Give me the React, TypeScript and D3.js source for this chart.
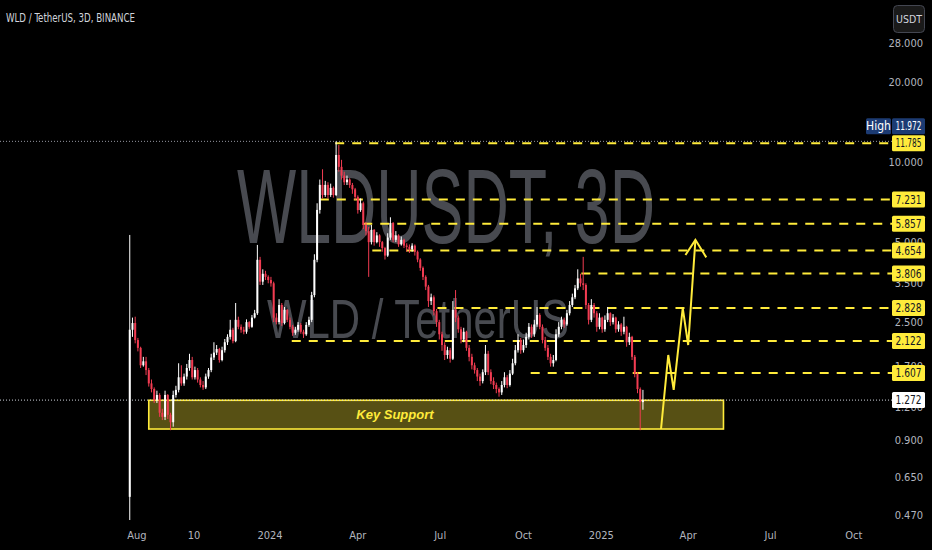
import React from 'react';
import * as d3 from 'd3';

const W = 932;
const H = 550;

const parse = d3.timeParse('%Y-%m-%d');

// 3-day candles, Binance WLD/USDT
const firstBarDate = '2023-07-24';
const barDays = 3;
const firstOpen = 0.55;
const closes = [
  2.34, 2.48, 2.14, 2.0, 1.72, 1.78, 1.65, 1.47, 1.4, 1.27,
  1.33, 1.14, 1.1, 1.33, 1.12, 1.05, 1.33, 1.39, 1.55, 1.47,
  1.56, 1.68, 1.8, 1.55, 1.65, 1.52, 1.45, 1.42, 1.56, 1.65,
  1.84, 1.92, 1.98, 1.8, 1.96, 2.1, 2.2, 2.34, 2.12, 2.55,
  2.4, 2.34, 2.3, 2.5, 2.4, 2.6, 2.7, 4.29, 3.55, 3.8,
  3.7, 3.6, 3.5, 2.6, 2.5, 2.9, 2.48, 2.78, 2.55, 2.4,
  2.28, 2.34, 2.44, 2.3, 2.25, 2.44, 2.55, 3.16, 4.29, 6.61,
  8.21,
  7.52, 8.21, 7.52, 8.0, 7.52, 10.64, 9.6, 8.9, 8.4, 8.6,
  8.2, 7.9, 7.4, 6.6, 7.0, 5.8, 5.5, 5.0, 5.56, 5.0,
  5.3, 5.0, 4.75, 4.45, 5.2, 5.9, 5.1, 5.3, 4.9, 5.1,
  4.85, 4.8, 4.7, 4.85, 4.6, 4.3, 4.0, 3.7, 3.4, 3.0,
  3.1, 2.75, 2.5, 2.25, 2.05, 1.88, 1.96, 1.82, 2.78, 2.6,
  2.35, 2.15, 2.3, 2.0, 1.85, 1.72, 1.65, 1.56, 1.5, 1.62,
  1.9, 1.62, 1.5, 1.45, 1.4, 1.36, 1.45, 1.55, 1.45, 1.6,
  1.75, 1.96, 2.14, 1.96, 2.05, 2.2, 2.4, 2.25, 2.45, 2.66,
  2.4, 2.14, 2.0, 1.85, 1.75, 1.8, 2.25, 2.4, 2.55, 2.45,
  2.7, 2.9, 3.1, 3.35, 3.65, 3.5, 3.45, 2.9, 2.55, 2.9,
  2.7, 2.4, 2.6, 2.35, 2.55, 2.7, 2.5, 2.6, 2.35, 2.45,
  2.3, 2.4, 2.1, 2.2, 1.85, 1.6, 1.4, 1.25, 1.272,
];
const highs = [
  5.32, 2.6, 2.62, 2.18, 2.02, 1.85, 1.85, 1.68, 1.52, 1.42,
  1.38, 1.35, 1.18, 1.38, 1.34, 1.14, 1.38, 1.44, 1.75, 1.72,
  1.6, 1.74, 1.9, 1.85, 1.7, 1.68, 1.55, 1.5, 1.6, 1.68,
  1.9, 2.1, 2.05, 2.0, 2.02, 2.16, 2.25, 2.55, 2.38, 2.95,
  2.62, 2.45, 2.4, 2.56, 2.52, 2.66, 2.78, 4.88, 4.4, 3.95,
  3.9, 3.75, 3.7, 3.55, 2.7, 3.05, 2.95, 2.85, 2.8, 2.6,
  2.44, 2.4, 2.5, 2.48, 2.34, 2.5, 2.62, 3.25, 4.5, 7.0,
  8.6,
  9.4, 8.5, 8.4, 8.3, 8.1, 11.97, 11.6, 10.2, 9.2, 8.9,
  8.7, 8.35, 8.0, 7.5, 7.3, 7.1, 5.95, 5.7, 5.8, 5.6,
  5.45, 5.35, 5.05, 4.8, 5.4, 6.2, 5.95, 5.5, 5.35, 5.25,
  5.15, 4.95, 4.9, 4.95, 4.9, 4.65, 4.35, 4.05, 3.75, 3.45,
  3.2, 3.15, 2.8, 2.55, 2.3, 2.1, 2.02, 2.0, 3.0, 3.3,
  2.65, 2.4, 2.38, 2.32, 2.05, 1.9, 1.76, 1.68, 1.6, 1.66,
  2.05, 1.95, 1.66, 1.55, 1.48, 1.42, 1.5, 1.62, 1.58, 1.65,
  1.82, 2.05, 2.25, 2.18, 2.15, 2.28, 2.48, 2.45, 2.55, 2.85,
  2.7, 2.45, 2.2, 2.05, 1.9, 1.88, 2.35, 2.5, 2.62, 2.6,
  2.78, 3.0, 3.2, 3.45, 3.95, 3.8, 4.4, 3.5, 2.95, 3.05,
  2.95, 2.75, 2.7, 2.62, 2.65, 2.85, 2.72, 2.68, 2.62, 2.52,
  2.48, 2.62, 2.42, 2.28, 2.22, 1.88, 1.62, 1.42, 1.39,
];
const lows = [
  0.45, 2.2, 2.08, 1.94, 1.68, 1.7, 1.58, 1.43, 1.36, 1.24,
  1.24, 1.1, 1.07, 1.07, 1.08, 0.98, 1.01, 1.3, 1.36, 1.44,
  1.44, 1.52, 1.64, 1.52, 1.52, 1.48, 1.42, 1.39, 1.4, 1.53,
  1.62, 1.8, 1.88, 1.76, 1.78, 1.92, 2.05, 2.15, 2.08, 2.1,
  2.35, 2.28, 2.25, 2.26, 2.36, 2.38, 2.58, 2.66, 3.45, 3.45,
  3.6, 3.5, 3.4, 2.5, 2.45, 2.45, 2.42, 2.45, 2.5, 2.35,
  2.22, 2.24, 2.3, 2.26, 2.18, 2.22, 2.4, 2.5, 3.1, 4.2,
  6.4,
  7.3, 7.4, 7.3, 7.4, 7.35, 7.45, 9.2, 8.6, 8.2, 8.2,
  8.0, 7.6, 7.2, 6.4, 6.5, 5.6, 5.3, 3.7, 4.9, 4.85,
  4.95, 4.8, 4.6, 4.3, 4.4, 5.1, 5.0, 5.0, 4.8, 4.85,
  4.75, 4.6, 4.55, 4.6, 4.45, 4.2, 3.9, 3.6, 3.3, 2.85,
  2.9, 2.65, 2.4, 2.15, 1.95, 1.8, 1.82, 1.76, 1.8, 2.5,
  2.28, 2.08, 2.1, 1.95, 1.78, 1.66, 1.6, 1.5, 1.44, 1.47,
  1.58, 1.58, 1.46, 1.4, 1.35, 1.31, 1.33, 1.42, 1.41, 1.43,
  1.58, 1.72, 1.92, 1.9, 1.92, 2.0, 2.15, 2.18, 2.2, 2.4,
  2.35, 2.08, 1.95, 1.8, 1.7, 1.7, 1.78, 2.2, 2.35, 2.38,
  2.42, 2.65, 2.85, 3.05, 3.3, 3.4, 3.3, 2.8, 2.45, 2.5,
  2.6, 2.3, 2.35, 2.28, 2.3, 2.5, 2.42, 2.45, 2.28, 2.3,
  2.22, 2.25, 2.02, 2.05, 1.8, 1.55, 1.35, 0.98, 1.17,
];

// Horizontal levels
const levelPrices = [11.785, 7.231, 5.857, 4.654, 3.806, 2.828, 2.122, 1.607];
const levelStarts = ['2024-03-07', '2024-02-19', '2024-04-07', '2024-04-17', '2024-12-04', '2024-06-28', '2024-01-19', '2024-10-09'];
const highPrice = 11.972;
const lastPrice = 1.272;

// Price axis
const priceTicks = [28, 20, 10, 5, 3.5, 2.5, 1.7, 1.2, 0.9, 0.65, 0.47];
// Time axis
const timeTickDates = ['2023-08-01', '2023-10-03', '2023-12-26', '2024-04-01', '2024-07-01', '2024-10-01', '2024-12-26', '2025-04-01', '2025-07-01', '2025-10-01'];
const timeTickLabels = ['Aug', '10', '2024', 'Apr', 'Jul', 'Oct', '2025', 'Apr', 'Jul', 'Oct'];

// Key support zone
const zoneStart = '2023-08-14';
const zoneEnd = '2025-05-10';
const zoneTop = 1.27;
const zoneBottom = 0.99;
const zoneLabelDate = '2024-05-12';

// Projected path
const pathDates = ['2025-03-02', '2025-03-10', '2025-03-16', '2025-03-26', '2025-04-01', '2025-04-09'];
const pathPrices = [0.99, 1.88, 1.39, 2.82, 2.05, 5.1];
const headDates = ['2025-03-29', '2025-04-09', '2025-04-21'];
const headPrices = [4.47, 5.1, 4.38];

const YELLOW = '#ffeb3b';
const UP = '#ffffff';
const DOWN = '#f23c52';
const AXIS_TEXT = '#b2b5be';
const FONT = '"Liberation Sans Narrow", "DejaVu Sans Condensed", "Roboto Condensed", "Liberation Sans", sans-serif';

export default function App() {
  const x = d3.scaleTime()
    .domain([parse('2023-08-01') as Date, parse('2025-10-01') as Date])
    .range([137, 853.8]);
  const y = d3.scaleLog().domain([0.47, 28]).range([515, 43.3]);

  const axisX = 892;
  const first = parse(firstBarDate) as Date;

  const candles = closes.map((c, i) => {
    const o = i === 0 ? firstOpen : closes[i - 1];
    const d = d3.timeDay.offset(first, barDays * i);
    return { d, o, c, h: highs[i], l: lows[i] };
  });

  const line = d3.line<[Date, number]>().x((p) => x(p[0])).y((p) => y(p[1]));
  const pathPts: [Date, number][] = pathDates.map((d, i) => [parse(d) as Date, pathPrices[i]]);
  const headPts: [Date, number][] = headDates.map((d, i) => [parse(d) as Date, headPrices[i]]);

  const labelBox = (v: number, key: string, fill: string, textFill: string, dy = 0) => {
    const cy = y(v) + dy;
    return (
      <g key={key}>
        <rect x={axisX} y={cy - 8} width={33} height={16} rx={1.5} fill={fill} />
        <text x={axisX + 16.5} y={cy} dy="0.36em" textAnchor="middle" fontSize={12} fill={textFill} fontFamily={FONT} textLength={26} lengthAdjust="spacingAndGlyphs">
          {v.toFixed(3)}
        </text>
      </g>
    );
  };

  const zx0 = x(parse(zoneStart) as Date);
  const zx1 = x(parse(zoneEnd) as Date);
  const zy0 = y(zoneTop);
  const zy1 = y(zoneBottom);
  const highDy = y(11.785) - 17 - y(highPrice);

  return (
    <svg width={W} height={H} style={{ position: 'fixed', left: 0, top: 0, background: '#000' }}>
      <rect x={0} y={0} width={W} height={H} fill="#000" />

      {/* watermarks */}
      <text x={237} y={243} fontSize={106} fill="#484a50" fontFamily='"Liberation Sans", Arial, sans-serif' textLength={418} lengthAdjust="spacingAndGlyphs">WLDUSDT, 3D</text>
      <text x={267} y={338} fontSize={56} fill="#484a50" fontFamily='"Liberation Sans", Arial, sans-serif' textLength={302} lengthAdjust="spacingAndGlyphs">WLD / TetherUS</text>

      {/* title */}
      <text x={6} y={22} fontSize={12.5} fill="#d1d4dc" fontFamily={FONT} textLength={129} lengthAdjust="spacingAndGlyphs">WLD / TetherUS, 3D, BINANCE</text>

      {/* key support zone */}
      <rect x={zx0} y={zy0} width={zx1 - zx0} height={zy1 - zy0} fill={YELLOW} fillOpacity={0.34} stroke={YELLOW} strokeWidth={1.6} />
      <text x={x(parse(zoneLabelDate) as Date)} y={(zy0 + zy1) / 2} dy="0.35em" textAnchor="middle" fontSize={13} fontWeight="bold" fontStyle="italic" fill={YELLOW} fontFamily='"Liberation Sans", Arial, sans-serif'>Key Support</text>

      {/* levels */}
      {levelPrices.map((v, i) => (
        <line key={'lv' + i} x1={x(parse(levelStarts[i]) as Date)} x2={axisX} y1={y(v)} y2={y(v)} stroke={YELLOW} strokeWidth={2} strokeDasharray="9 8" />
      ))}

      {/* dotted high and last price lines */}
      <line x1={0} x2={axisX} y1={y(highPrice)} y2={y(highPrice)} stroke="#9598a1" strokeWidth={1} strokeDasharray="1 2" />
      <line x1={0} x2={axisX} y1={y(lastPrice)} y2={y(lastPrice)} stroke="#d1d4dc" strokeWidth={1} strokeDasharray="1 2" />

      {/* candles */}
      {candles.map((k, i) => {
        const cx = x(k.d);
        const up = k.c >= k.o;
        const col = up ? UP : DOWN;
        const top = y(Math.max(k.o, k.c));
        const bot = y(Math.min(k.o, k.c));
        return (
          <g key={'c' + i}>
            <line x1={cx} x2={cx} y1={y(k.h)} y2={y(k.l)} stroke={col} strokeWidth={1} />
            <rect x={cx - 1} y={top} width={2} height={Math.max(1, bot - top)} fill={col} />
          </g>
        );
      })}

      {/* projected path */}
      <path d={line(pathPts) || ''} fill="none" stroke={YELLOW} strokeWidth={2} strokeLinejoin="miter" />
      <path d={line(headPts) || ''} fill="none" stroke={YELLOW} strokeWidth={2} />

      {/* price axis labels */}
      {priceTicks.map((v) => (
        <text key={'pt' + v} x={923} y={y(v)} dy="0.35em" textAnchor="end" fontSize={11} fill={AXIS_TEXT} fontFamily={FONT}>
          {v.toFixed(3)}
        </text>
      ))}

      {/* level label boxes */}
      {levelPrices.map((v, i) => labelBox(v, 'lb' + i, YELLOW, '#131722'))}
      {labelBox(highPrice, 'hb', '#1c3b73', '#ffffff', highDy)}
      <rect x={866} y={y(11.785) - 25} width={25} height={16} rx={1.5} fill="#1c3b73" />
      <text x={878.5} y={y(11.785) - 17} dy="0.36em" textAnchor="middle" fontSize={12} fill="#ffffff" fontFamily={FONT}>High</text>
      {labelBox(lastPrice, 'lp', '#ffffff', '#131722')}

      {/* currency button */}
      <rect x={893.5} y={5.5} width={31} height={27} rx={4} fill="#1a1a1a" stroke="#434651" />
      <text x={909} y={19} dy="0.35em" textAnchor="middle" fontSize={10.5} fill="#d1d4dc" fontFamily={FONT}>USDT</text>

      {/* time axis labels */}
      {timeTickDates.map((d, i) => (
        <text key={'tt' + i} x={x(parse(d) as Date)} y={535} dy="0.35em" textAnchor="middle" fontSize={11} fill={AXIS_TEXT} fontFamily={FONT}>
          {timeTickLabels[i]}
        </text>
      ))}
    </svg>
  );
}
